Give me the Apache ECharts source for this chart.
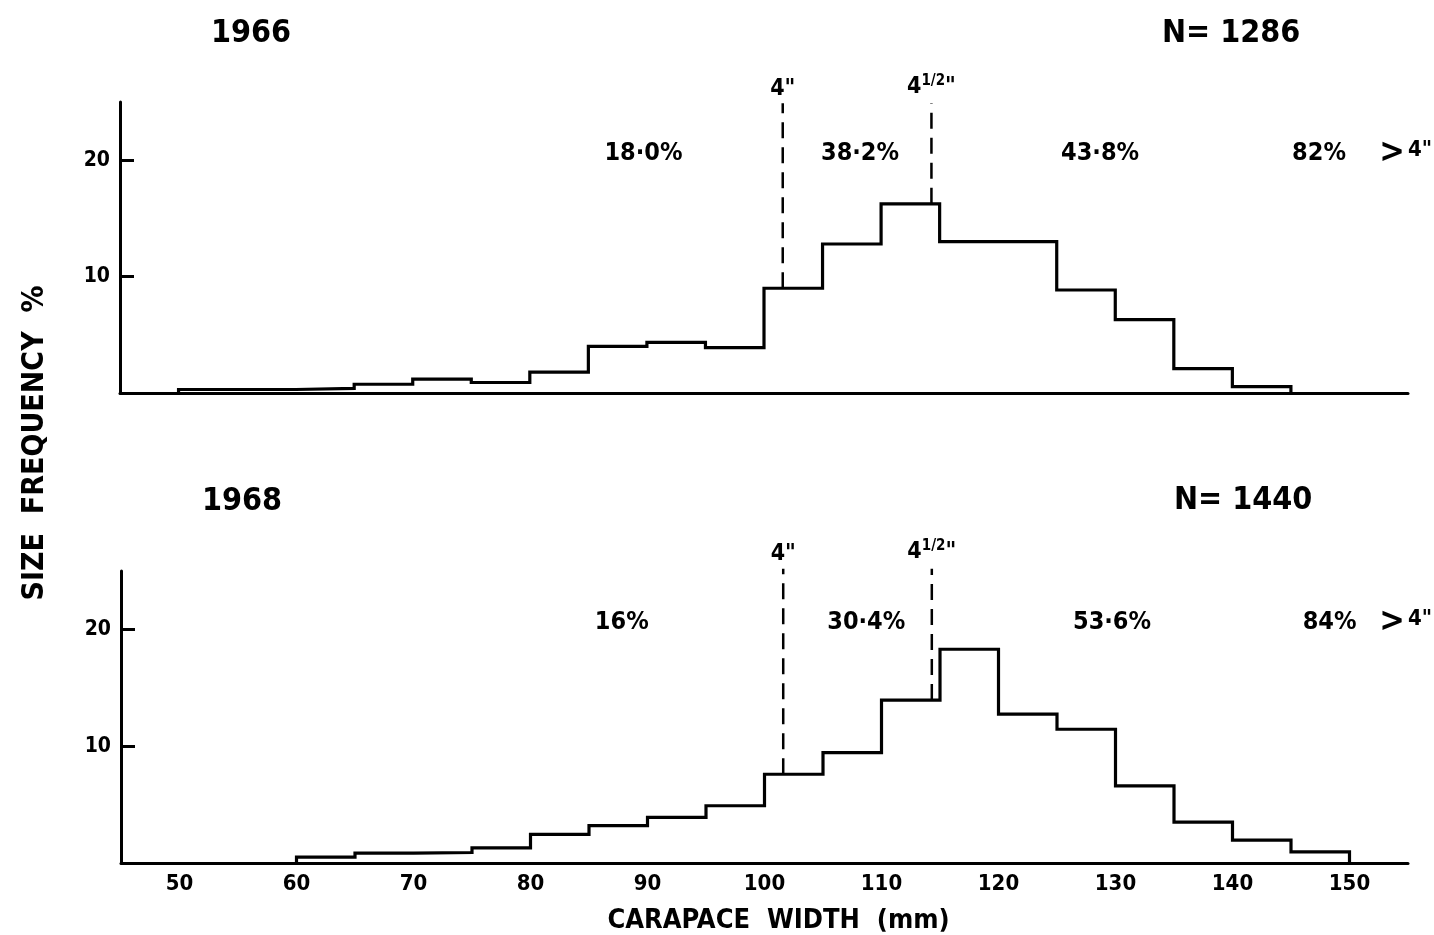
<!DOCTYPE html>
<html>
<head>
<meta charset="utf-8">
<script src="https://cdn.jsdelivr.net/npm/echarts@6/dist/echarts.min.js"></script>
<style>
  html, body { margin: 0; padding: 0; background: #fff; }
  #chart { width: 1434px; height: 935px; }
</style>
</head>
<body>
<div id="chart"></div>
<script>
// Carapace width size-frequency (%), 5 mm classes
const years = ['1966', '1968'];
const sampleSizes = ['N= 1286', 'N= 1440'];
const binWidth = 5;
const binStart1966 = 50;
const freq1966 = [0.3, 0.3, 0.4, 0.75, 1.2, 0.9, 1.8, 4.0, 4.35, 3.9, 9.0, 12.8, 16.25, 13.0, 13.0, 8.85, 6.3, 2.1, 0.55];
const binStart1968 = 60;
const freq1968 = [0.5, 0.85, 0.9, 1.3, 2.45, 3.2, 3.9, 4.9, 7.6, 9.45, 13.95, 18.3, 12.75, 11.45, 6.6, 3.5, 1.95, 0.95];

// Legal size limits: 4 in and 4 1/2 in expressed in mm
const limitWidths = [101.6, 114.3];
const limitLabels = ['4"', '4{f|1/2}"'];

// Share of catch in each size band, and share above 4 in
const shares1966 = ['18·0%', '38·2%', '43·8%', '82%'];
const shares1968 = ['16%', '30·4%', '53·6%', '84%'];
const aboveLabel = '{b|>}{s|4"}';

const xTickValues = [50, 60, 70, 80, 90, 100, 110, 120, 130, 140, 150];
const yTickValues = [10, 20];

const FONT = "'DejaVu Sans Condensed', 'Liberation Sans Narrow', 'DejaVu Sans', sans-serif";

// Outline of a histogram: up from the baseline, across each class, back down
function outline(start, vals) {
  const pts = [[start, 0]];
  vals.forEach((v, i) => {
    const a = start + i * binWidth;
    pts.push([a, v], [a + binWidth, v]);
  });
  pts.push([start + vals.length * binWidth, 0]);
  return pts;
}
function freqAt(start, vals, x) {
  return vals[Math.floor((x - start) / binWidth)];
}

// Horizontal placement of the band labels (mm) on each panel
const shareX = [[89.7, 108.2, 128.7, 147.4], [87.8, 108.7, 129.7, 148.3]];
const shareY = 20.6;
const aboveX = 154.8;
const limitTop = [24.9, 25.2];

const panels = [
  { start: binStart1966, vals: freq1966, shares: shares1966 },
  { start: binStart1968, vals: freq1968, shares: shares1968 }
];

const series = [];
panels.forEach((p, k) => {
  series.push({
    type: 'line', xAxisIndex: k, yAxisIndex: k,
    data: outline(p.start, p.vals),
    symbol: 'none', silent: true, animation: false,
    lineStyle: { color: '#000', width: 3.2, join: 'miter' },
    z: 3
  });
  limitWidths.forEach((w, j) => {
    series.push({
      type: 'line', xAxisIndex: k, yAxisIndex: k,
      data: [[w, freqAt(p.start, p.vals, w)], [w, limitTop[k]]],
      symbol: 'none', silent: true, animation: false, clip: false,
      lineStyle: { color: '#000', width: 2.5, type: [16, 9] },
      z: 2
    });
    // label above the top of each dashed limit line
    series.push({
      type: 'scatter', xAxisIndex: k, yAxisIndex: k,
      data: [[w, limitTop[k]]], symbolSize: 0, silent: true, animation: false, clip: false,
      itemStyle: { opacity: 1 },
      label: {
        show: true, position: 'top', distance: 3,
        formatter: limitLabels[j],
        color: '#000', fontFamily: FONT, fontWeight: 'bold', fontSize: 23,
        rich: {
          f: { fontFamily: FONT, fontWeight: 'bold', fontSize: 15, color: '#000', padding: [0, 0, 12, 0] }
        }
      }
    });
  });
  const notes = p.shares.map((s, i) => ({ value: [shareX[k][i], shareY], name: s }));
  notes.push({ value: [aboveX, shareY], name: aboveLabel });
  series.push({
    type: 'scatter', xAxisIndex: k, yAxisIndex: k,
    data: notes, symbolSize: 0, silent: true, animation: false, clip: false,
    itemStyle: { opacity: 1 },
    label: {
      show: true, position: 'inside', formatter: d => d.name,
      color: '#000', fontFamily: FONT, fontWeight: 'bold', fontSize: 25,
      rich: {
        b: { fontFamily: FONT, fontSize: 34, color: '#000', padding: [0, 3, 0, 0] },
        s: { fontFamily: FONT, fontSize: 22, fontWeight: 'bold', color: '#000', padding: [0, 0, 6, 0] }
      }
    }
  });
});

const grids = [
  { left: 120, top: 102, width: 1288, height: 291 },
  { left: 121, top: 571, width: 1287, height: 292 }
];

const xAxes = grids.map((g, k) => ({
  type: 'value', gridIndex: k, min: 45, max: 155,
  splitLine: { show: false },
  axisLine: { show: true, onZero: false, lineStyle: { color: '#000', width: 3 } },
  axisTick: { show: false },
  axisLabel: k === 1 ? {
    show: true, customValues: xTickValues, margin: 10,
    color: '#000', fontFamily: FONT, fontWeight: 'bold', fontSize: 22
  } : { show: false },
  name: k === 1 ? 'CARAPACE  WIDTH  (mm)' : '',
  nameLocation: 'middle', nameGap: 44,
  nameTextStyle: { color: '#000', fontFamily: FONT, fontSize: 27, fontWeight: 'bold', padding: [0, 0, 0, 28] }
}));

const yAxes = grids.map((g, k) => ({
  type: 'value', gridIndex: k, min: 0, max: 25, interval: 10,
  splitLine: { show: false },
  axisLine: { show: true, lineStyle: { color: '#000', width: 3 } },
  axisTick: { show: true, inside: true, length: 14, customValues: yTickValues, lineStyle: { color: '#000', width: 3 } },
  axisLabel: {
    show: true, customValues: yTickValues, margin: 10,
    color: '#000', fontFamily: FONT, fontWeight: 'bold', fontSize: 21
  }
}));

const titleStyle = { color: '#000', fontFamily: FONT, fontWeight: 'bold', fontSize: 32 };
const titles = [
  { text: years[0], left: 206, top: 13, textStyle: titleStyle },
  { text: sampleSizes[0], left: 1157, top: 13, textStyle: titleStyle },
  { text: years[1], left: 197, top: 481, textStyle: titleStyle },
  { text: sampleSizes[1], left: 1169, top: 480, textStyle: titleStyle }
];

const chart = echarts.init(document.getElementById('chart'), null, { renderer: 'canvas' });
chart.setOption({
  backgroundColor: '#fff',
  animation: false,
  title: titles,
  grid: grids,
  xAxis: xAxes,
  yAxis: yAxes,
  series: series,
  graphic: [{
    type: 'text', x: 35, y: 443, rotation: Math.PI / 2,
    style: {
      text: 'SIZE  FREQUENCY  %', fill: '#000',
      font: 'bold 30px ' + FONT,
      textAlign: 'center', textVerticalAlign: 'middle'
    }
  }]
});
</script>
</body>
</html>
